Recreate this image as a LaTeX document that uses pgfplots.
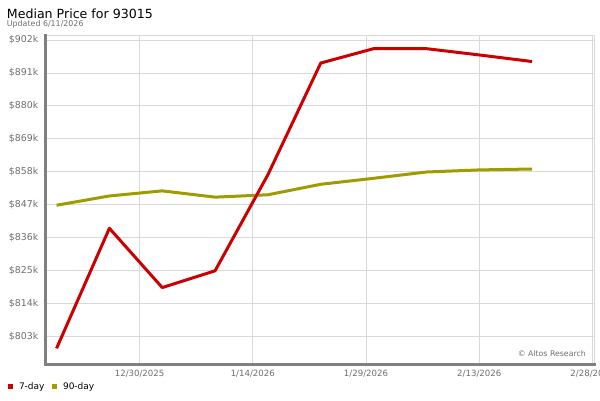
\documentclass[border=0pt]{standalone}
\usepackage{fontspec}
\setmainfont{DejaVu Sans}
\usepackage{pgfplots}
\pgfplotsset{compat=1.18}
\definecolor{altred}{RGB}{204,0,0}
\definecolor{altolive}{RGB}{160,155,0}
\definecolor{axgray}{RGB}{128,128,128}
\definecolor{gridgray}{RGB}{217,217,217}
\definecolor{lblgray}{RGB}{110,110,110}
\begin{document}
\begin{tikzpicture}
\useasboundingbox (0pt,0pt) rectangle (600pt,400pt);
\node[anchor=base west,inner sep=0pt,font=\fontsize{12.6}{14}\selectfont] at (6.7pt,381.7pt) {Median Price for 93015};
\node[anchor=base west,inner sep=0pt,font=\fontsize{7.9}{8}\selectfont,text=lblgray] at (6.7pt,373.6pt) {Updated 6/11/2026};
\begin{axis}[
  at={(46pt,35.5pt)}, anchor=south west,
  scale only axis, width=548pt, height=329pt,
  xmin=-12.4, xmax=60.2, ymin=793.6, ymax=903.5,
  axis line style={draw=gridgray, line width=0.8pt},
  grid=major, grid style={draw=gridgray, line width=0.8pt},
  major tick length=0pt,
  /pgf/number format/assume math mode=true,
  xtick={0,15,30,45,60},
  xticklabels={12/30/2025,1/14/2026,1/29/2026,2/13/2026,2/28/2026},
  ytick={803,814,825,836,847,858,869,880,891,902},
  yticklabels={\$803k,\$814k,\$825k,\$836k,\$847k,\$858k,\$869k,\$880k,\$891k,\$902k},
  xticklabel style={font=\fontsize{8.6}{9}\selectfont, text=lblgray, inner sep=0pt, yshift=-5.5pt},
  yticklabel style={font=\fontsize{9.4}{10}\selectfont, text=lblgray, inner sep=0pt, xshift=-7.5pt},
  clip=false,
  legend columns=2,
  legend style={at={(axis description cs:-0.0706,-0.0675)}, anchor=west, draw=none, fill=none,
    inner sep=0pt, font=\fontsize{9}{10}\selectfont,
    nodes={inner sep=0pt, text=black},
    /tikz/every odd column/.append style={column sep=6.5pt},
    /tikz/every even column/.append style={column sep=7pt}},
  legend image code/.code={\fill[#1,draw=none] (0pt,-2.5pt) rectangle (5pt,2.5pt);},
]
\addlegendimage{color=altred}
\addlegendentry{7-day}
\addplot[color=altolive, line width=3pt, line join=round] coordinates {
(-11,846.8) (-4,849.9) (3,851.6) (10,849.5) (17,850.3) (24,853.8) (31,855.8) (38,857.9) (45,858.6) (52,858.9)};
\addlegendentry{90-day}
\addplot[color=altred, line width=3pt, line join=round, forget plot] coordinates {
(-11,799.0) (-4,839.1) (3,819.3) (10,824.9) (17,857.0) (24,894.3) (31,899.1) (38,899.1) (45,897.0) (52,894.8)};
\draw[axgray, line width=3pt] (rel axis cs:0,1.005) -- (rel axis cs:0,0) -- (rel axis cs:1.003,0);
\end{axis}
\node[anchor=base east,inner sep=0pt,font=\fontsize{7.8}{8}\selectfont,text=lblgray] at (586pt,43.5pt) {© Altos Research};
\end{tikzpicture}
\end{document}
